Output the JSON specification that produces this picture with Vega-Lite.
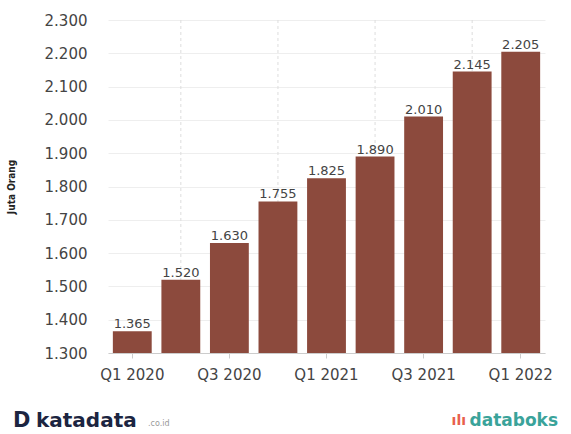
{
  "$schema": "https://vega.github.io/schema/vega-lite/v6.json",
  "background": "white",
  "padding": {"left": 6, "top": 13, "right": 6, "bottom": 0},
  "spacing": 28,
  "config": {
    "view": {"stroke": null},
    "locale": {"number": {"decimal": ",", "thousands": ".", "grouping": [3], "currency": ["Rp", ""]}},
    "font": "DejaVu Sans"
  },
  "vconcat": [
    {
      "width": 437,
      "height": 333,
      "data": {"values": [
        {"q": "Q1 2020", "v": 1365},
        {"q": "Q2 2020", "v": 1520},
        {"q": "Q3 2020", "v": 1630},
        {"q": "Q4 2020", "v": 1755},
        {"q": "Q1 2021", "v": 1825},
        {"q": "Q2 2021", "v": 1890},
        {"q": "Q3 2021", "v": 2010},
        {"q": "Q4 2021", "v": 2145},
        {"q": "Q1 2022", "v": 2205}
      ]},
      "encoding": {
        "x": {
          "field": "q", "type": "ordinal", "sort": null,
          "scale": {"domain": ["Q1 2020","Q2 2020","Q3 2020","Q4 2020","Q1 2021","Q2 2021","Q3 2021","Q4 2021","Q1 2022"], "paddingInner": 0.2, "paddingOuter": 0.1},
          "axis": {
            "title": null, "labelAngle": 0,
            "values": ["Q1 2020", "Q3 2020", "Q1 2021", "Q3 2021", "Q1 2022"],
            "labelFontSize": 15, "labelColor": "#444444", "labelPadding": 9, "labelOverlap": false,
            "tickColor": "#cccccc", "tickSize": 5, "domainColor": "#cccccc", "grid": false
          }
        },
        "y": {
          "field": "v", "type": "quantitative",
          "scale": {"domain": [1300, 2300], "zero": false, "nice": false},
          "axis": {
            "title": "Juta Orang", "titleFontSize": 10, "titleFontWeight": "bold",
            "titleFont": "DejaVu Sans Condensed", "titleColor": "#222222", "titlePadding": 28,
            "format": ",.0f", "tickCount": 11, "values": [1300,1400,1500,1600,1700,1800,1900,2000,2100,2200,2300],
            "labelFontSize": 15, "labelColor": "#444444", "labelPadding": 21, "labelOverlap": false,
            "ticks": false, "domain": false, "gridColor": "#eeeeee"
          }
        }
      },
      "layer": [
        {
          "transform": [{"filter": "indexof(['Q2 2020','Q4 2020','Q2 2021','Q4 2021'], datum.q) >= 0"}],
          "mark": {"type": "rule", "color": "#dddddd", "strokeDash": [3, 3], "strokeWidth": 1},
          "encoding": {"y": null}
        },
        {
          "mark": {"type": "bar", "color": "#8c4a3d", "clip": true}
        },
        {
          "mark": {"type": "text", "dy": -7, "fontSize": 13, "color": "#444444"},
          "encoding": {
            "text": {"field": "v", "type": "quantitative", "format": ",.0f"}
          }
        }
      ]
    },
    {
      "width": 450,
      "height": 22,
      "data": {"values": [
        {"p": 0, "t": "D", "c": "logo"},
        {"p": 0, "t": "katadata", "c": "kata"},
        {"p": 1, "t": "databoks", "c": "db"}
      ]},
      "encoding": {
        "x": {"field": "p", "type": "quantitative", "scale": {"domain": [0, 1]}, "axis": null}
      },
      "layer": [
        {
          "transform": [{"filter": "datum.c == 'logo'"}],
          "mark": {"type": "text", "align": "left", "baseline": "middle", "dx": -95, "fontSize": 21, "fontWeight": "bold", "color": "#1c2541"},
          "encoding": {"text": {"field": "t"}}
        },
        {
          "transform": [{"filter": "datum.c == 'kata'"}],
          "mark": {"type": "text", "align": "left", "baseline": "middle", "dx": -72, "fontSize": 20, "fontWeight": "bold", "color": "#1c2541"},
          "encoding": {"text": {"field": "t"}}
        },
        {
          "transform": [{"filter": "datum.c == 'kata'"}],
          "mark": {"type": "text", "align": "left", "baseline": "middle", "dx": 40, "dy": 3, "fontSize": 8, "color": "#999999"},
          "encoding": {"text": {"value": ".co.id"}}
        },
        {
          "transform": [{"filter": "datum.c == 'db'"}],
          "mark": {"type": "text", "align": "right", "baseline": "middle", "fontSize": 17, "fontWeight": "bold", "color": "#3aa39a"},
          "encoding": {"text": {"field": "t"}}
        },
        {
          "transform": [{"filter": "datum.c == 'db'"}],
          "mark": {"type": "text", "align": "right", "baseline": "middle", "dx": -92, "fontSize": 14, "fontWeight": "bold", "color": "#e8604c"},
          "encoding": {"text": {"value": "ılı"}}
        }
      ]
    }
  ]
}
